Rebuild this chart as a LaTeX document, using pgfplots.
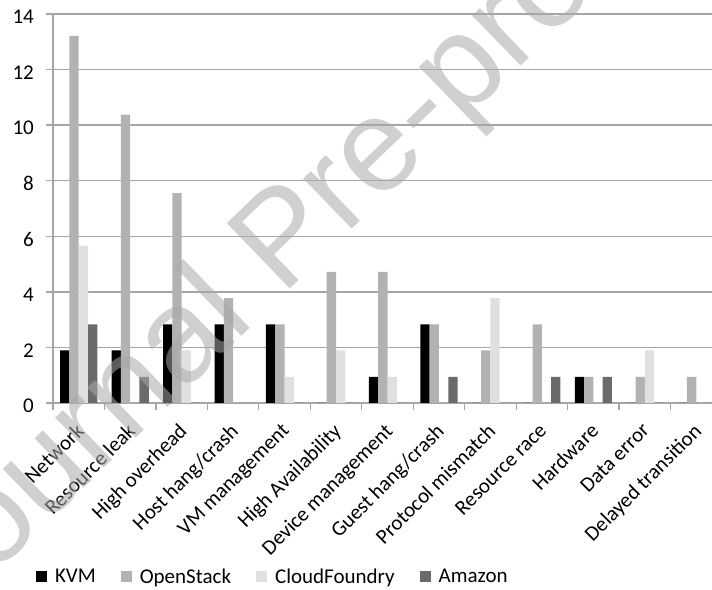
\documentclass[border=0pt]{standalone}
\usepackage{pgfplots}
\usepackage{pgfplotstable}
\pgfplotsset{compat=1.18}
\usepackage{fontspec}
\setmainfont{Carlito}
\newfontfamily\markfont{Liberation Sans}

\definecolor{kvm}{HTML}{000000}
\definecolor{openstack}{HTML}{B2B2B2}
\definecolor{cloudfoundry}{HTML}{E0E0E0}
\definecolor{amazon}{HTML}{6B6B6B}
\definecolor{gridgray}{HTML}{A6A6A6}
\definecolor{markgray}{HTML}{A8A8A8}

% share of bugs (%) per category and platform
\pgfplotstableread{
idx kvm  openstack cloudfoundry amazon
0   1.89 13.21     5.66         2.83
1   1.89 10.38     0            0.94
2   2.83 7.55      1.89         0
3   2.83 3.77      0            0
4   2.83 2.83      0.94         0
5   0    4.72      1.89         0
6   0.94 4.72      0.94         0
7   2.83 2.83      0            0.94
8   0    1.89      3.77         0
9   0    2.83      0            0.94
10  0.94 0.94      0            0.94
11  0    0.94      1.89         0
12  0    0.94      0            0
}\bugdata

\begin{document}
\begin{tikzpicture}[font=\fontsize{21}{25}\selectfont]
\begin{axis}[
  at={(53pt,186pt)}, anchor=south west,
  scale only axis, width=669pt, height=389pt,
  xmin=-0.5, xmax=12.5, ymin=0, ymax=14,
  ybar=0pt, bar width=9.3pt,
  axis x line*=bottom, axis y line*=left,
  every outer x axis line/.append style={-},
  every outer y axis line/.append style={-},
  axis line style={gridgray, line width=1.3pt},
  ymajorgrids, grid style={gridgray, line width=1.3pt},
  tick align=outside,
  tick style={gridgray, line width=1.3pt},
  major tick length=7pt,
  ytick={0,2,...,14},
  yticklabel style={anchor=east, inner sep=0pt, xshift=-12pt, yshift=-3pt},
  /pgf/number format/assume math mode=true,
  xtick={-0.5,0.5,...,12.5},
  xticklabels={},
  extra x ticks={0,1,...,12},
  extra x tick labels={Network, Resource leak, High overhead, Host hang/crash,
    VM management, High Availability, Device management, Guest hang/crash,
    Protocol mismatch, Resource race, Hardware, Data error, Delayed transition},
  extra x tick style={major tick length=0pt,
    xticklabel style={xshift=-4pt, yshift=-19pt, rotate=45,
      anchor=north east, inner sep=0pt}},
  legend columns=4,
  legend image code/.code={\fill[#1] (0pt,-5.5pt) rectangle (11pt,5.5pt);},
  legend style={at={(-0.0254,-0.447)}, anchor=west, draw=none, fill=none,
    inner sep=0pt, outer sep=0pt,
    /tikz/every odd column/.append style={column sep=6pt},
    /tikz/every even column/.append style={column sep=23pt}},
  legend cell align=left,
]
\addplot[fill=kvm, draw=none] table[x=idx, y=kvm] {\bugdata};
\addplot[fill=openstack, draw=none] table[x=idx, y=openstack] {\bugdata};
\addplot[fill=cloudfoundry, draw=none] table[x=idx, y=cloudfoundry] {\bugdata};
\addplot[fill=amazon, draw=none] table[x=idx, y=amazon] {\bugdata};
\legend{KVM, OpenStack, CloudFoundry, Amazon}
\end{axis}
% watermark laid over the whole figure
\node[rotate=44, inner sep=0pt, text=markgray, text opacity=0.54,
  font=\markfont\fontsize{132}{132}\selectfont] at (288pt,345pt) {Journal Pre-proof};
\pgfresetboundingbox
\useasboundingbox (0pt,0pt) rectangle (712pt,589pt);
\end{tikzpicture}
\end{document}
